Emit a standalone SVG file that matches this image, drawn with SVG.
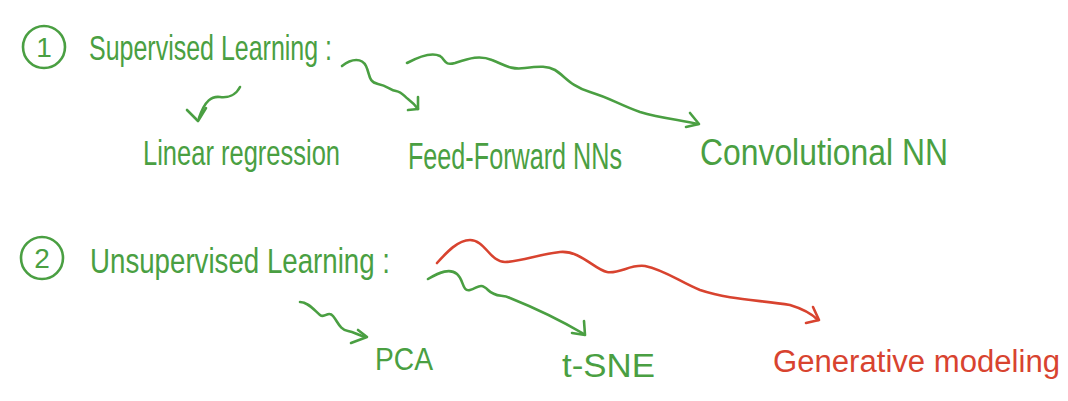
<svg xmlns="http://www.w3.org/2000/svg" width="1068" height="401" viewBox="0 0 1068 401">
<style>
.g{fill:#4a9f42;font-family:"Liberation Sans",Arial,sans-serif;}
.r{fill:#d8432f;font-family:"Liberation Sans",Arial,sans-serif;}
.lg{fill:none;stroke:#4a9f42;stroke-width:2.6;stroke-linecap:round;stroke-linejoin:round;}
.lr{fill:none;stroke:#d8432f;stroke-width:2.6;stroke-linecap:round;stroke-linejoin:round;}
</style>
<rect width="1068" height="401" fill="#ffffff"/>
<g id="supervised">
<circle cx="44" cy="47" r="21" class="lg"/>
<text class="g" x="44" y="57" font-size="28" text-anchor="middle">1</text>
<text class="g" x="89" y="60" font-size="35" textLength="243" lengthAdjust="spacingAndGlyphs">Supervised Learning :</text>
</g>
<g id="linear">
<text class="g" x="143" y="165" font-size="35" textLength="197" lengthAdjust="spacingAndGlyphs">Linear regression</text>
</g>
<g id="feedforward">
<text class="g" x="408" y="169" font-size="36" textLength="214" lengthAdjust="spacingAndGlyphs">Feed-Forward NNs</text>
</g>
<g id="convolutional">
<text class="g" x="700" y="165" font-size="36" textLength="248" lengthAdjust="spacingAndGlyphs">Convolutional NN</text>
</g>
<g id="unsupervised">
<circle cx="42" cy="258" r="21" class="lg"/>
<text class="g" x="42" y="268" font-size="28" text-anchor="middle">2</text>
<text class="g" x="90" y="273" font-size="35" textLength="300" lengthAdjust="spacingAndGlyphs">Unsupervised Learning :</text>
</g>
<g id="pca">
<text class="g" x="375" y="370" font-size="32" textLength="58" lengthAdjust="spacingAndGlyphs">PCA</text>
</g>
<g id="tsne">
<text class="g" x="562" y="377" font-size="34" textLength="93" lengthAdjust="spacingAndGlyphs">t-SNE</text>
</g>
<g id="generative">
<text class="r" x="773" y="372" font-size="31" textLength="287" lengthAdjust="spacingAndGlyphs">Generative modeling</text>
</g>
<g id="connectors">
<path class="lg" d="M240,87 C236,95 228,98 220,97 C212,96 205,100 199,118"/>
<path class="lg" d="M187,110 L198,121 L206,108"/>
<path class="lg" d="M342,66 C352,58 362,58 366,66 C370,74 368,82 378,84 C388,86 390,90 396,91 C402,92 404,96 408,99 C412,102 415,105 418,109"/>
<path class="lg" d="M418,97 L418,109 L408,110"/>
<path class="lg" d="M407,63 C420,56 432,52 440,56 C446,60 444,66 455,63 C470,58 480,55 492,60 C505,65 510,70 525,68 C540,66 548,66 555,70 C565,76 570,86 590,92 C610,98 620,105 640,112 C660,118 680,120 698,124"/>
<path class="lg" d="M690,113 L699,124 L686,127"/>
<path class="lg" d="M300,302 C308,302 314,310 320,315 C325,319 328,310 333,316 C338,322 340,330 348,331 C354,332 358,335 365,337"/>
<path class="lg" d="M358,330 L367,337 L351,343"/>
<path class="lg" d="M428,279 C440,272 450,268 457,274 C464,280 462,292 470,290 C478,288 480,282 488,290 C496,298 502,294 510,298 C530,306 560,320 584,334"/>
<path class="lg" d="M584,321 L585,335 L572,333"/>
<path class="lr" d="M437,263 C447,252 458,240 470,240 C485,240 490,262 505,262 C520,262 540,254 560,252 C580,250 595,270 607,272 C620,274 630,264 645,266 C665,270 680,282 700,290 C730,300 760,300 790,305 C800,308 810,312 818,320"/>
<path class="lr" d="M813,307 L819,320 L806,323"/>
</g>
</svg>
